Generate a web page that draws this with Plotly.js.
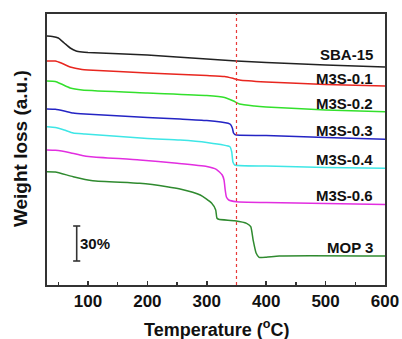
<!DOCTYPE html>
<html>
<head>
<meta charset="utf-8">
<script src="https://cdn.plot.ly/plotly-3.0.1.min.js"></script>
<style>html,body{margin:0;padding:0;background:#fff;}#chart{width:402px;height:339px;}</style>
</head>
<body>
<div id="chart"></div>
<script>
// Temperature (°C) and stacked weight signal (a.u.)
const sbaT   = [30,40,50,60,70,80,90,100,200,300,350,400,500,600];
const sbaW   = [249,248.5,247,242,237,234,233,232.5,230,226,224,222.5,220,218];
const m01T   = [30,45,55,70,90,100,200,300,330,345,355,400,500,600];
const m01W   = [224,224,222,218,215.5,215,212,209.5,208.5,206.5,205,203,200.5,199];
const m02T   = [30,45,55,70,90,200,300,330,345,355,380,400,500,600];
const m02W   = [204,203.5,201,197,195,192,189.5,187.5,184,181,179,178,175,173.3];
const m03T   = [30,45,60,75,95,200,255,300,336,340,343,345,347,350,400,500,600];
const m03W   = [176,175.7,174,172,171,167.5,166,164.5,161.7,160.5,157,152,150.7,150,149.5,147.5,145.7];
const m04T   = [30,45,60,75,95,200,255,300,339,342,344,347,400,500,600];
const m04W   = [158.3,157.5,155,152,151,146.5,145,142.5,138.3,133,123,120,119,117.5,116.7];
const m06T   = [30,45,70,90,105,187,250,300,316,326,329,331,333,337,350,400,500,600];
const m06W   = [135,134.7,132.3,129.5,128.3,125,121.7,118.5,115.7,110,105,95,88,85,83.3,82.5,81.5,80.5];
const mopT   = [30,45,75,108,187,233,255,289,308,315,317,320,347,367,374,378,383,388,400,422,600];
const mopW   = [113.3,113,108.3,104.3,101.7,98.3,96,90,82,75,67,65.7,64.3,61.7,58.3,45,32,27.7,27.7,29,29];

const seriesNames  = ["SBA-15","M3S-0.1","M3S-0.2","M3S-0.3","M3S-0.4","M3S-0.6","MOP 3"];
const seriesColors = ["#222222","#e8261f","#33e02c","#2424c4","#3ee6e6","#e22ee0","#2f8a2f"];
const labelY       = [231,207,182,155,126,90,38];
const xTickVals    = [100,200,300,400,500,600];
const markerTemp   = 350;
const scaleBarX    = 81;
const scaleBarY    = [24,59];   // 30 % span
const scaleLabel   = "30%";

const xs = [sbaT,m01T,m02T,m03T,m04T,m06T,mopT];
const ys = [sbaW,m01W,m02W,m03W,m04W,m06W,mopW];

const traces = seriesNames.map((n,i)=>({
  x: xs[i], y: ys[i], name: n, type: 'scatter', mode: 'lines',
  line: {color: seriesColors[i], width: 1.5, shape: 'spline', smoothing: 0.5},
  hoverinfo: 'skip'
}));

const font = "Liberation Sans, Arial, sans-serif";
const annotations = seriesNames.map((n,i)=>({
  text: n, xref: 'paper', x: 0.97, xanchor: 'right',
  yref: 'y', y: labelY[i], yanchor: 'middle', showarrow: false,
  font: {family: font, size: 15, color: '#111', weight: 'bold'}
}));
annotations.push({
  text: scaleLabel, xref: 'x', x: scaleBarX+3, xanchor: 'left',
  yref: 'y', y: (scaleBarY[0]+scaleBarY[1])/2, yanchor: 'middle', showarrow: false,
  font: {family: font, size: 15, color: '#111', weight: 'bold'}
});
annotations.push({
  text: "Temperature (<sup>o</sup>C)", xref: 'paper', x: 0.5, xanchor: 'center',
  yref: 'paper', y: -0.11, yanchor: 'top', showarrow: false,
  font: {family: font, size: 18, color: '#111', weight: 'bold'}
});
annotations.push({
  text: "Weight loss (a.u.)", xref: 'paper', x: -0.08, xanchor: 'center',
  yref: 'paper', y: 0.505, yanchor: 'middle', showarrow: false, textangle: -90,
  font: {family: font, size: 19, color: '#111', weight: 'bold'}
});

const shapes = [
  {type:'line', xref:'x', yref:'paper', x0: markerTemp, x1: markerTemp, y0: 0, y1: 1,
   line:{color:'#e83a3a', width:1.2, dash:'dot'}},
  {type:'line', xref:'x', yref:'y', x0: scaleBarX, x1: scaleBarX, y0: scaleBarY[0], y1: scaleBarY[1],
   line:{color:'#333', width:1.6}},
  {type:'line', xref:'x', yref:'y', x0: scaleBarX-6, x1: scaleBarX+6, y0: scaleBarY[0], y1: scaleBarY[0],
   line:{color:'#333', width:1.6}},
  {type:'line', xref:'x', yref:'y', x0: scaleBarX-6, x1: scaleBarX+6, y0: scaleBarY[1], y1: scaleBarY[1],
   line:{color:'#333', width:1.6}}
];

const layout = {
  width: 402, height: 339,
  margin: {l: 47, r: 17, t: 14, b: 54},
  paper_bgcolor: '#fff', plot_bgcolor: '#fff',
  showlegend: false,
  xaxis: {
    range: [31, 600], showgrid: false, zeroline: false,
    showline: true, linecolor: '#333', linewidth: 2, mirror: true,
    tickvals: xTickVals, ticktext: xTickVals.map(v => '<b>' + v + '</b>'),
    ticks: 'inside', ticklen: 4, tickwidth: 1.5, tickcolor: '#333',
    minor: {tickvals: [50,150,250,350,450,550], ticks: 'inside', ticklen: 3, tickwidth: 1.2, tickcolor: '#333'},
    tickfont: {family: font, size: 17, color: '#111'}
  },
  yaxis: {
    range: [0, 271], showgrid: false, zeroline: false,
    showline: true, linecolor: '#333', linewidth: 2, mirror: true,
    showticklabels: false, ticks: ''
  },
  annotations: annotations,
  shapes: shapes
};

Plotly.newPlot('chart', traces, layout, {staticPlot: true, displayModeBar: false});
</script>
</body>
</html>
